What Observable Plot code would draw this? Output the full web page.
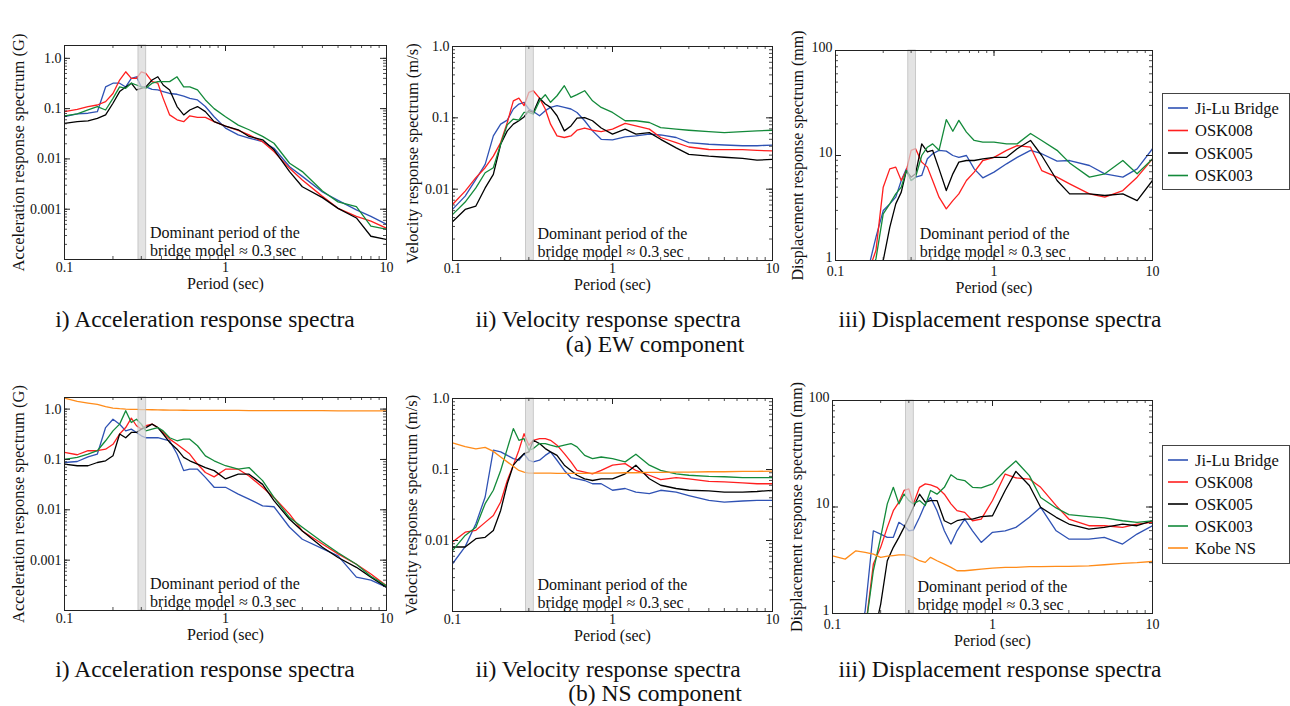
<!DOCTYPE html>
<html><head><meta charset="utf-8">
<script src="https://cdn.jsdelivr.net/npm/d3@7"></script>
<script src="https://cdn.jsdelivr.net/npm/@observablehq/plot@0.6"></script>
<style>
html,body{margin:0;padding:0;background:#fff;}
#root{position:relative;width:1290px;height:706px;overflow:hidden;background:#fff;font-family:"Liberation Serif","Times New Roman",serif;}
.panel{position:absolute;}
.panel svg{overflow:visible;max-width:none;}
#overlay{position:absolute;left:0;top:0;pointer-events:none;}
</style></head>
<body><div id="root"></div>
<script>
// ---------------- DATA ----------------
const periods = [0.1, 0.12, 0.14, 0.16, 0.18, 0.2, 0.22, 0.24, 0.26, 0.28, 0.3, 0.32, 0.35, 0.38, 0.41, 0.45, 0.5, 0.55, 0.6, 0.67, 0.75, 0.85, 1.0, 1.2, 1.4, 1.7, 2.0, 2.5, 3.0, 4.0, 5.0, 6.5, 8.0, 10];
const seriesNames = ["Ji-Lu Bridge", "OSK008", "OSK005", "OSK003", "Kobe NS"];
const seriesColors = ["#2f52b4", "#ff1f1f", "#000000", "#138a3a", "#ff8c1a"];
const bandPeriods = [0.288, 0.322];
const annotationPeriod = 0.34;
const annotationText = "Dominant period of the\nbridge model \u2248 0.3 sec";
const periodLabel = "Period (sec)";
const periodTicks = [0.1, 1, 10];
const periodTickLabels = ["0.1", "1", "10"];
const accTicks = [0.001, 0.01, 0.1, 1];
const accTickLabels = ["0.001", "0.01", "0.1", "1.0"];
const velTicks = [0.01, 0.1, 1];
const velTickLabels = ["0.01", "0.1", "1.0"];
const dispTicks = [1, 10, 100];
const dispTickLabels = ["1", "10", "100"];

// (a) EW component
const ewAccJiLu   = [0.069, 0.0785, 0.081, 0.087, 0.27, 0.32, 0.32, 0.27, 0.40, 0.43, 0.27, 0.27, 0.242, 0.235, 0.218, 0.20, 0.193, 0.178, 0.16, 0.149, 0.11, 0.069, 0.041, 0.030, 0.026, 0.022, 0.0163, 0.0070, 0.0045, 0.0022, 0.0015, 0.00097, 0.00072, 0.0005];
const ewAccOSK008 = [0.087, 0.097, 0.11, 0.118, 0.138, 0.20, 0.37, 0.54, 0.40, 0.40, 0.54, 0.50, 0.344, 0.32, 0.16, 0.075, 0.060, 0.055, 0.072, 0.067, 0.067, 0.055, 0.045, 0.037, 0.030, 0.022, 0.014, 0.0065, 0.0038, 0.0018, 0.00104, 0.00072, 0.00058, 0.00042];
const ewAccOSK005 = [0.051, 0.055, 0.057, 0.064, 0.075, 0.128, 0.218, 0.27, 0.32, 0.235, 0.253, 0.27, 0.37, 0.43, 0.295, 0.235, 0.11, 0.075, 0.094, 0.11, 0.087, 0.055, 0.045, 0.038, 0.028, 0.024, 0.0152, 0.0056, 0.0028, 0.0017, 0.00104, 0.00067, 0.00029, 0.00025];
const ewAccOSK003 = [0.072, 0.0785, 0.094, 0.11, 0.094, 0.16, 0.27, 0.253, 0.32, 0.295, 0.27, 0.253, 0.32, 0.344, 0.344, 0.344, 0.43, 0.27, 0.27, 0.235, 0.149, 0.10, 0.069, 0.047, 0.038, 0.028, 0.0205, 0.0082, 0.0056, 0.0023, 0.0014, 0.00113, 0.00046, 0.0004];

const ewVelJiLu   = [0.0052, 0.008, 0.0137, 0.0223, 0.0558, 0.0815, 0.093, 0.133, 0.156, 0.165, 0.133, 0.123, 0.107, 0.126, 0.14, 0.148, 0.14, 0.133, 0.119, 0.091, 0.0656, 0.050, 0.049, 0.054, 0.0558, 0.059, 0.0575, 0.053, 0.045, 0.0426, 0.0416, 0.0406, 0.0406, 0.0416];
const ewVelOSK008 = [0.0061, 0.0094, 0.0145, 0.020, 0.029, 0.045, 0.086, 0.173, 0.189, 0.148, 0.227, 0.24, 0.189, 0.133, 0.0815, 0.0558, 0.053, 0.0558, 0.067, 0.072, 0.067, 0.064, 0.0695, 0.0835, 0.077, 0.0695, 0.053, 0.045, 0.039, 0.036, 0.0358, 0.0358, 0.035, 0.0343];
const ewVelOSK005 = [0.0035, 0.0052, 0.0058, 0.0104, 0.0161, 0.0426, 0.0656, 0.0815, 0.091, 0.103, 0.126, 0.119, 0.189, 0.156, 0.14, 0.107, 0.0656, 0.077, 0.099, 0.101, 0.091, 0.072, 0.059, 0.0695, 0.059, 0.062, 0.050, 0.038, 0.0308, 0.029, 0.028, 0.027, 0.0255, 0.0262];
const ewVelOSK003 = [0.0044, 0.0066, 0.0104, 0.017, 0.020, 0.0426, 0.080, 0.096, 0.093, 0.119, 0.119, 0.113, 0.173, 0.211, 0.165, 0.204, 0.282, 0.193, 0.211, 0.24, 0.173, 0.14, 0.119, 0.091, 0.091, 0.086, 0.073, 0.0695, 0.067, 0.064, 0.062, 0.064, 0.0656, 0.067];

const ewDispJiLu   = [0.36, 0.48, 0.645, 0.8, 1.67, 2.99, 3.46, 4.01, 5.78, 7.46, 5.78, 6.22, 6.45, 9.3, 10.4, 11.2, 11.0, 10.0, 9.6, 10.0, 7.46, 6.13, 6.94, 8.33, 9.6, 11.2, 10.4, 8.83, 8.96, 8.03, 6.69, 6.22, 7.46, 11.6];
const ewDispOSK008 = [0.31, 0.42, 0.56, 0.75, 1.25, 4.99, 7.46, 7.75, 5.78, 7.19, 11.2, 11.6, 8.65, 7.75, 5.78, 4.01, 3.1, 3.72, 4.31, 5.78, 6.94, 8.96, 9.6, 11.2, 12.4, 12.0, 7.19, 6.22, 5.37, 4.31, 4.01, 4.64, 6.22, 9.3];
const ewDispOSK005 = [0.23, 0.31, 0.42, 0.56, 0.75, 1.0, 2.07, 3.46, 4.48, 7.19, 6.22, 6.69, 12.9, 10.8, 11.2, 7.46, 4.64, 6.69, 8.65, 8.96, 8.96, 9.3, 9.6, 9.6, 11.6, 13.9, 10.0, 5.78, 4.31, 4.31, 4.16, 4.31, 3.72, 5.78];
const ewDispOSK003 = [0.27, 0.36, 0.48, 0.645, 1.04, 2.78, 3.46, 4.31, 4.99, 7.19, 5.78, 6.22, 10.0, 12.0, 12.9, 11.2, 22.0, 17.0, 21.6, 16.7, 13.9, 13.4, 13.4, 12.9, 12.9, 16.2, 13.9, 11.2, 8.5, 6.22, 6.69, 8.96, 6.7, 9.3];

// (b) NS component
const nsAccJiLu   = [0.087, 0.091, 0.113, 0.128, 0.43, 0.63, 0.50, 0.37, 0.40, 0.344, 0.295, 0.27, 0.27, 0.27, 0.253, 0.235, 0.128, 0.060, 0.064, 0.064, 0.044, 0.028, 0.028, 0.0205, 0.0163, 0.012, 0.0115, 0.0045, 0.0026, 0.0017, 0.00122, 0.00046, 0.0004, 0.00029];
const nsAccOSK008 = [0.138, 0.124, 0.149, 0.149, 0.16, 0.20, 0.32, 0.43, 0.66, 0.467, 0.40, 0.467, 0.503, 0.43, 0.344, 0.253, 0.20, 0.16, 0.128, 0.081, 0.055, 0.045, 0.064, 0.064, 0.047, 0.028, 0.0176, 0.0082, 0.0038, 0.0021, 0.00133, 0.00083, 0.00053, 0.00031];
const nsAccOSK005 = [0.081, 0.075, 0.075, 0.087, 0.094, 0.118, 0.32, 0.27, 0.344, 0.344, 0.40, 0.43, 0.503, 0.43, 0.32, 0.218, 0.16, 0.11, 0.094, 0.081, 0.069, 0.06, 0.041, 0.051, 0.051, 0.032, 0.0152, 0.0065, 0.0038, 0.0018, 0.00113, 0.00072, 0.00046, 0.00029];
const nsAccOSK003 = [0.10, 0.11, 0.128, 0.149, 0.235, 0.37, 0.503, 0.93, 0.543, 0.63, 0.503, 0.37, 0.40, 0.43, 0.37, 0.27, 0.235, 0.253, 0.253, 0.187, 0.118, 0.094, 0.075, 0.064, 0.069, 0.038, 0.0176, 0.0070, 0.0045, 0.0023, 0.0014, 0.00083, 0.00048, 0.00031];
const nsAccKobe   = [1.65, 1.42, 1.32, 1.24, 1.12, 1.05, 1.02, 1.0, 0.99, 0.985, 0.98, 0.975, 0.97, 0.965, 0.96, 0.955, 0.95, 0.95, 0.945, 0.945, 0.94, 0.94, 0.94, 0.94, 0.935, 0.935, 0.93, 0.93, 0.93, 0.93, 0.925, 0.925, 0.925, 0.925];

const nsVelJiLu   = [0.0047, 0.0082, 0.0172, 0.041, 0.187, 0.177, 0.158, 0.142, 0.135, 0.167, 0.135, 0.128, 0.135, 0.158, 0.177, 0.135, 0.097, 0.077, 0.074, 0.070, 0.063, 0.063, 0.051, 0.054, 0.048, 0.0456, 0.051, 0.048, 0.043, 0.0367, 0.0348, 0.036, 0.0367, 0.0367];
const nsVelOSK008 = [0.0095, 0.0131, 0.0139, 0.018, 0.0225, 0.0348, 0.070, 0.115, 0.187, 0.32, 0.22, 0.258, 0.272, 0.272, 0.258, 0.22, 0.167, 0.128, 0.097, 0.092, 0.087, 0.097, 0.115, 0.121, 0.097, 0.083, 0.072, 0.077, 0.074, 0.068, 0.067, 0.065, 0.063, 0.063];
const nsVelOSK005 = [0.0081, 0.0081, 0.0106, 0.0111, 0.0138, 0.0265, 0.063, 0.115, 0.142, 0.167, 0.177, 0.258, 0.232, 0.197, 0.177, 0.158, 0.115, 0.097, 0.083, 0.074, 0.070, 0.074, 0.074, 0.087, 0.115, 0.074, 0.060, 0.054, 0.051, 0.050, 0.048, 0.048, 0.049, 0.051];
const nsVelOSK003 = [0.0072, 0.0118, 0.0154, 0.033, 0.051, 0.097, 0.197, 0.377, 0.258, 0.272, 0.187, 0.197, 0.232, 0.232, 0.22, 0.208, 0.22, 0.232, 0.208, 0.158, 0.142, 0.15, 0.142, 0.128, 0.164, 0.115, 0.097, 0.087, 0.083, 0.080, 0.079, 0.077, 0.077, 0.077];
const nsVelKobe   = [0.237, 0.21, 0.195, 0.205, 0.18, 0.15, 0.128, 0.111, 0.097, 0.092, 0.089, 0.089, 0.089, 0.089, 0.089, 0.088, 0.088, 0.088, 0.088, 0.088, 0.089, 0.089, 0.089, 0.09, 0.09, 0.091, 0.091, 0.092, 0.092, 0.093, 0.093, 0.094, 0.094, 0.095];

const nsDispJiLu   = [0.19, 0.27, 0.385, 1.06, 5.98, 5.57, 5.19, 5.19, 7.18, 6.67, 5.98, 6.08, 8.0, 10.7, 12.3, 9.24, 5.98, 4.49, 5.98, 7.71, 5.98, 4.65, 5.78, 5.98, 6.44, 8.0, 9.93, 5.98, 5.0, 5.0, 5.19, 4.49, 5.57, 6.67];
const nsDispOSK008 = [0.19, 0.25, 0.334, 0.687, 2.91, 4.18, 6.44, 9.24, 11.1, 14.3, 14.8, 10.7, 15.3, 16.5, 16.1, 15.3, 13.2, 10.7, 9.24, 8.9, 7.43, 7.7, 11.5, 20.4, 18.8, 18.3, 15.3, 10.3, 7.71, 6.67, 6.67, 6.44, 6.92, 7.18];
const nsDispOSK005 = [0.13, 0.19, 0.25, 0.385, 0.59, 1.22, 3.13, 4.18, 5.19, 6.44, 8.0, 9.93, 13.2, 11.1, 11.5, 11.5, 7.43, 6.92, 7.43, 7.71, 7.71, 8.11, 8.28, 14.3, 21.6, 15.9, 9.93, 8.0, 6.92, 6.21, 6.44, 6.92, 6.67, 7.43];
const nsDispOSK003 = [0.162, 0.233, 0.334, 0.687, 2.52, 5.19, 10.7, 15.3, 10.7, 13.2, 11.5, 10.7, 11.5, 10.3, 14.3, 13.2, 15.3, 20.1, 18.3, 17.7, 15.3, 15.1, 16.5, 22, 27, 19.7, 12.3, 9.8, 8.47, 8.11, 7.89, 7.43, 7.18, 7.43];
const nsDispKobe   = [3.48, 3.24, 3.88, 3.75, 3.61, 3.37, 3.45, 3.5, 3.55, 3.55, 3.5, 3.37, 3.13, 3.02, 3.37, 3.13, 2.91, 2.71, 2.52, 2.52, 2.56, 2.61, 2.67, 2.71, 2.71, 2.75, 2.75, 2.77, 2.77, 2.8, 2.87, 2.95, 3.0, 3.08];

const captions = ["i) Acceleration response spectra", "ii) Velocity response spectra", "iii) Displacement response spectra"];
const componentCaptions = ["(a) EW component", "(b) NS component"];

// ---------------- LAYOUT ----------------
const FONT = '"Liberation Serif","Times New Roman",serif';
const panels = [
  {frame: [64, 386, 45, 259], yDomain: [1e-4, 1.8], ticks: accTicks, labels: accTickLabels, yLabel: "Acceleration response spectrum (G)", yDx: -46, yFs: 16.5, xPad: 3, yDy: 0,
   series: [ewAccJiLu, ewAccOSK008, ewAccOSK005, ewAccOSK003]},
  {frame: [452, 772, 46, 260], yDomain: [1e-3, 1], ticks: velTicks, labels: velTickLabels, yLabel: "Velocity response spectrum (m/s)", yDx: -40, yFs: 16.5, xPad: 3, yDy: 0,
   series: [ewVelJiLu, ewVelOSK008, ewVelOSK005, ewVelOSK003]},
  {frame: [835, 1152, 50, 260], yDomain: [1, 100], ticks: dispTicks, labels: dispTickLabels, yLabel: "Displacement response spectrum (mm)", yDx: -38, yFs: 16, xPad: 6, yDy: -3,
   series: [ewDispJiLu, ewDispOSK008, ewDispOSK005, ewDispOSK003]},
  {frame: [64, 386, 397, 610], yDomain: [1e-4, 1.7], ticks: accTicks, labels: accTickLabels, yLabel: "Acceleration response spectrum (G)", yDx: -46, yFs: 16.5, xPad: 3, yDy: 0,
   series: [nsAccJiLu, nsAccOSK008, nsAccOSK005, nsAccOSK003, nsAccKobe]},
  {frame: [452, 772, 398, 611], yDomain: [1e-3, 1], ticks: velTicks, labels: velTickLabels, yLabel: "Velocity response spectrum (m/s)", yDx: -41, yFs: 16.5, xPad: 3, yDy: 0,
   series: [nsVelJiLu, nsVelOSK008, nsVelOSK005, nsVelOSK003, nsVelKobe]},
  {frame: [832, 1152, 400, 613], yDomain: [1, 100], ticks: dispTicks, labels: dispTickLabels, yLabel: "Displacement response spectrum (mm)", yDx: -36, yFs: 16, xPad: 6, yDy: -3,
   series: [nsDispJiLu, nsDispOSK008, nsDispOSK005, nsDispOSK003, nsDispKobe]}
];

function logMinor(domain) {
  const out = [];
  const lo = Math.floor(Math.log10(domain[0])), hi = Math.ceil(Math.log10(domain[1]));
  for (let e = lo; e <= hi; e++) for (let k = 1; k <= 9; k++) {
    const v = +(k * Math.pow(10, e)).toPrecision(6);
    if (v >= domain[0] * 0.9999 && v <= domain[1] * 1.0001) out.push(v);
  }
  return out;
}
function logMajor(domain) { return logMinor(domain).filter(v => Math.abs(Math.log10(v) - Math.round(Math.log10(v))) < 1e-9); }

const root = document.getElementById("root");
const mL = 64, mR = 14, mT = 15, mB = 40;

panels.forEach(p => {
  const [x0, x1, y0, y1] = p.frame;
  const W = x1 - x0, H = y1 - y0;
  const rows = [];
  p.series.forEach((vals, si) => periods.forEach((t, i) => rows.push({period: t, value: vals[i], name: seriesNames[si]})));
  const xDomain = [0.1, 10];
  const yMinor = logMinor(p.yDomain), yMajor = logMajor(p.yDomain);
  const xMinor = logMinor(xDomain), xMajor = logMajor(xDomain);
  const tc = "#222";
  const chart = Plot.plot({
    width: W + mL + mR, height: H + mT + mB,
    marginLeft: mL, marginRight: mR, marginTop: mT, marginBottom: mB,
    style: {background: "transparent", fontFamily: FONT, fontSize: "14px", color: "#111", overflow: "visible"},
    x: {type: "log", domain: xDomain, axis: null},
    y: {type: "log", domain: p.yDomain, axis: null},
    color: {domain: seriesNames, range: seriesColors},
    marks: [
      Plot.line(rows, {x: "period", y: "value", stroke: "name", strokeWidth: 1.3, clip: true}),
      Plot.rect([bandPeriods], {x1: d => d[0], x2: d => d[1], fill: "#d8d8d8", fillOpacity: 0.72, stroke: "#b8b8b8", strokeWidth: 0.7}),
      Plot.frame({stroke: "#222", strokeWidth: 1}),
      Plot.tickY(yMinor, {y: d => d, insetRight: W - 3, stroke: tc, strokeWidth: 0.8}),
      Plot.tickY(yMinor, {y: d => d, insetLeft: W - 3, stroke: tc, strokeWidth: 0.8}),
      Plot.tickY(yMajor, {y: d => d, insetRight: W - 6, stroke: tc}),
      Plot.tickY(yMajor, {y: d => d, insetLeft: W - 6, stroke: tc}),
      Plot.tickX(xMinor, {x: d => d, insetTop: H - 3, stroke: tc, strokeWidth: 0.8}),
      Plot.tickX(xMinor, {x: d => d, insetBottom: H - 3, stroke: tc, strokeWidth: 0.8}),
      Plot.tickX(xMajor, {x: d => d, insetTop: H - 6, stroke: tc}),
      Plot.tickX(xMajor, {x: d => d, insetBottom: H - 6, stroke: tc}),
      Plot.axisY(p.ticks, {tickSize: 0, tickPadding: 3, fontSize: 14, dy: p.yDy, tickFormat: d => p.labels[p.ticks.indexOf(d)], label: null}),
      Plot.axisX(periodTicks, {tickSize: 0, tickPadding: p.xPad, fontSize: 14, tickFormat: d => periodTickLabels[periodTicks.indexOf(d)], label: null}),
      Plot.text([p.yLabel], {frameAnchor: "left", rotate: -90, dx: p.yDx, text: d => d, textAnchor: "middle",
        lineAnchor: "middle", fontSize: p.yFs, fill: "#111"}),
      Plot.text([periodLabel], {frameAnchor: "bottom", dy: 21.5 + p.xPad, text: d => d, textAnchor: "middle",
        lineAnchor: "middle", fontSize: 16, fill: "#111"}),
      Plot.text([annotationText], {x: () => annotationPeriod, frameAnchor: "bottom", text: d => d, textAnchor: "start",
        lineAnchor: "bottom", lineHeight: 1.12, dy: -4, fontSize: 16, fill: "#111"})
    ]
  });
  const div = document.createElement("div");
  div.className = "panel";
  div.style.left = (x0 - mL) + "px";
  div.style.top = (y0 - mT) + "px";
  div.appendChild(chart);
  root.appendChild(div);
});

// ---------------- OVERLAY: captions & legends ----------------
const svg = d3.select(root).append("svg").attr("id", "overlay").attr("width", 1290).attr("height", 706)
  .style("font-family", FONT).attr("fill", "#111");

const capX = [205, 608, 1000];
[[327, 352], [677, 701]].forEach(([yb, yc], r) => {
  captions.forEach((c, i) => svg.append("text").attr("x", capX[i]).attr("y", yb).attr("text-anchor", "middle")
    .attr("font-size", 23.5).text(c));
  svg.append("text").attr("x", 655).attr("y", yc).attr("text-anchor", "middle").attr("font-size", 23.5).text(componentCaptions[r]);
});

function legend(x, y, w, h, n, step) {
  const g = svg.append("g");
  g.append("rect").attr("x", x + 0.5).attr("y", y + 0.5).attr("width", w).attr("height", h)
    .attr("fill", "#fff").attr("stroke", "#444").attr("stroke-width", 1);
  for (let i = 0; i < n; i++) {
    const cy = y + 15 + i * step;
    g.append("line").attr("x1", x + 6).attr("x2", x + 26).attr("y1", cy).attr("y2", cy)
      .attr("stroke", seriesColors[i]).attr("stroke-width", 1.6);
    g.append("text").attr("x", x + 33).attr("y", cy + 5.5).attr("font-size", 16.5).text(seriesNames[i]);
  }
}
legend(1162, 93, 127, 96, 4, 22.5);
legend(1162, 445, 127, 118, 5, 22);
</script>
</body></html>
